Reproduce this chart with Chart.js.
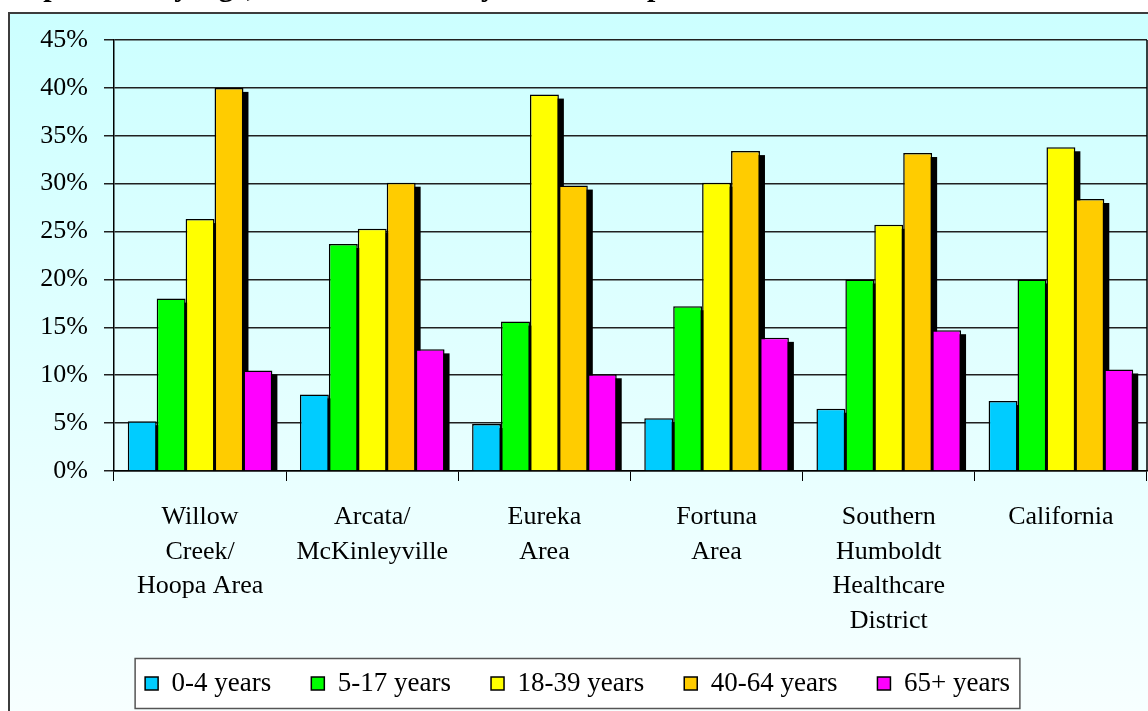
<!DOCTYPE html>
<html>
<head>
<meta charset="utf-8">
<script src="https://cdn.jsdelivr.net/npm/chart.js@4/dist/chart.umd.min.js"></script>
<style>
  html, body { margin: 0; padding: 0; background: #fff; }
  #wrap { width: 1148px; height: 711px; }
</style>
</head>
<body>
<div id="wrap"><canvas id="age-chart"></canvas></div>
<script>
// areas on the x axis (one array per label, one entry per line)
var areas = [
  ["Willow", "Creek/", "Hoopa Area"],
  ["Arcata/", "McKinleyville"],
  ["Eureka", "Area"],
  ["Fortuna", "Area"],
  ["Southern", "Humboldt", "Healthcare", "District"],
  ["California"]
];

// percent of population in each age group
var age0to4 = [5.2, 8.0, 4.9, 5.5, 6.5, 7.3];
var age5to17 = [18.0, 23.7, 15.6, 17.2, 20.0, 20.0];
var age18to39 = [26.3, 25.3, 39.3, 30.1, 25.7, 33.8];
var age40to64 = [40.0, 30.1, 29.8, 33.4, 33.2, 28.4];
var age65plus = [10.5, 12.7, 10.1, 13.9, 14.7, 10.6];

var titleText = "Population by Age, Humboldt County Areas Compared to California";
var serif = "'Liberation Serif', 'Times New Roman', serif";

function makeSet(label, values, color) {
  return {
    label: label,
    data: values,
    backgroundColor: color,
    borderColor: '#000',
    borderWidth: 1.5,
    categoryPercentage: 0.84,
    barPercentage: 1.0
  };
}

// page frame, gradient, title and the white legend box
var backdrop = {
  id: 'backdrop',
  beforeDraw: function(chart) {
    var ctx = chart.ctx;
    var w = chart.width, h = chart.height;
    ctx.save();
    ctx.fillStyle = '#fff';
    ctx.fillRect(0, 0, w, h);
    var grad = ctx.createLinearGradient(0, 14, 0, h);
    grad.addColorStop(0, '#ccffff');
    grad.addColorStop(1, '#f7ffff');
    ctx.fillStyle = grad;
    ctx.fillRect(9, 14, w - 9, h - 14);
    ctx.strokeStyle = '#3c3c3c';
    ctx.lineWidth = 2;
    ctx.beginPath();
    ctx.moveTo(9, h + 2);
    ctx.lineTo(9, 13);
    ctx.lineTo(w + 2, 13);
    ctx.stroke();

    // title is mostly cut off by the top edge, only descenders show
    ctx.fillStyle = '#000';
    ctx.font = 'bold 30px ' + serif;
    ctx.textBaseline = 'alphabetic';
    ctx.fillText(titleText, 10, -4);

    var boxes = chart.legend.legendHitBoxes;
    if (boxes && boxes.length) {
      var l = boxes[0].left, r = 0, t = boxes[0].top, bh = boxes[0].height;
      boxes.forEach(function(b) {
        l = Math.min(l, b.left);
        r = Math.max(r, b.left + b.width);
      });
      var cy = t + bh / 2;
      ctx.fillStyle = '#fff';
      ctx.fillRect(l - 10, cy - 25, r - l + 20, 50);
      ctx.strokeStyle = '#555';
      ctx.lineWidth = 1.5;
      ctx.strokeRect(l - 10, cy - 25, r - l + 20, 50);
    }
    ctx.restore();
  },
  // black drop shadows behind every bar, drawn before the bars
  beforeDatasetsDraw: function(chart) {
    var ctx = chart.ctx;
    ctx.save();
    ctx.fillStyle = '#000';
    chart.data.datasets.forEach(function(ds, i) {
      chart.getDatasetMeta(i).data.forEach(function(bar) {
        var left = bar.x - bar.width / 2 + 5;
        var top = bar.y + 4;
        ctx.fillRect(left, top, bar.width, bar.base - top);
      });
    });
    ctx.restore();
  },
  afterDatasetsDraw: function(chart) {
    var ctx = chart.ctx;
    var a = chart.chartArea;
    ctx.save();
    ctx.strokeStyle = '#000';
    ctx.lineWidth = 1.5;
    ctx.beginPath();
    ctx.moveTo(a.right, a.top);
    ctx.lineTo(a.right, a.bottom);
    ctx.stroke();
    ctx.restore();
  }
};

var ctx = document.getElementById("age-chart").getContext("2d");
var myChart = new Chart(ctx, {
  type: 'bar',
  data: {
    labels: areas,
    datasets: [
      makeSet('0-4 years', age0to4, '#00ccff'),
      makeSet('5-17 years', age5to17, '#00ff00'),
      makeSet('18-39 years', age18to39, '#ffff00'),
      makeSet('40-64 years', age40to64, '#ffcc00'),
      makeSet('65+ years', age65plus, '#ff00ff')
    ]
  },
  options: {
    responsive: true,
    maintainAspectRatio: false,
    animation: false,
    layout: { padding: { left: 8, right: 1, top: 40, bottom: 4 } },
    plugins: {
      title: { display: false },
      tooltip: { enabled: false },
      legend: {
        position: 'bottom',
        labels: {
          color: '#000',
          font: { family: serif, size: 27 },
          boxWidth: 13,
          boxHeight: 13,
          padding: 40
        }
      }
    },
    scales: {
      x: {
        afterFit: function(scale) { scale.height = 159; },
        grid: {
          offset: true,
          drawOnChartArea: false,
          color: '#000',
          lineWidth: 1,
          tickLength: 10
        },
        border: { color: '#000', width: 1.5 },
        ticks: {
          color: '#000',
          font: { family: serif, size: 26, lineHeight: 1.33 },
          padding: 19,
          maxRotation: 0,
          autoSkip: false
        }
      },
      y: {
        min: 0,
        max: 45,
        afterFit: function(scale) { scale.width = 106; },
        grid: {
          color: '#202020',
          lineWidth: 1.5,
          tickLength: 10
        },
        border: { color: '#000', width: 1.5 },
        ticks: {
          stepSize: 5,
          color: '#000',
          font: { family: serif, size: 26 },
          padding: 16,
          callback: function(v) { return v + '%'; }
        }
      }
    }
  },
  plugins: [backdrop]
});
</script>
</body>
</html>
